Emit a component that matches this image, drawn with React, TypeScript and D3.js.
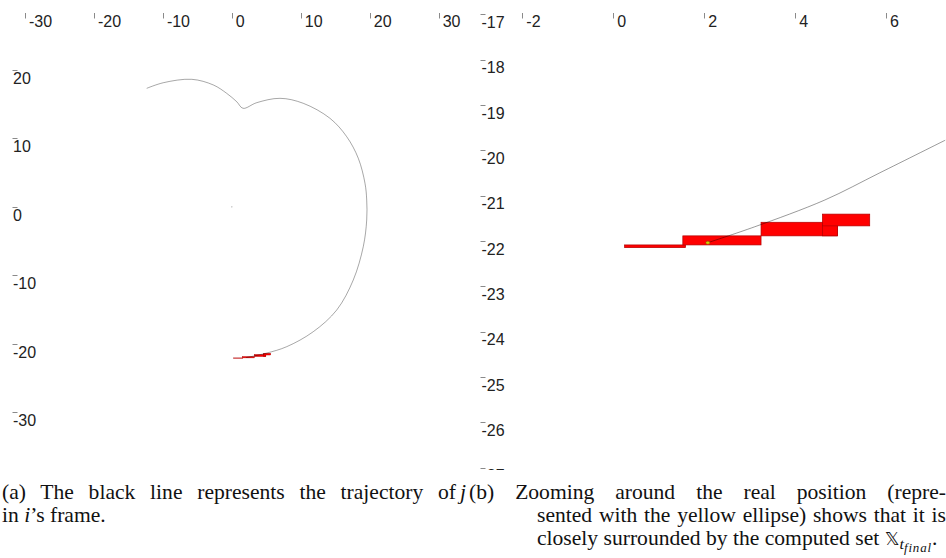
import { useLayoutEffect, useRef } from 'react'
import * as d3 from 'd3'

// tick values
const leftXTicks = [-30, -20, -10, 0, 10, 20, 30]
const leftYTicks = [20, 10, 0, -10, -20, -30]
const rightXTicks = [-2, 0, 2, 4, 6]
const rightYTicks = [-17, -18, -19, -20, -21, -22, -23, -24, -25, -26, -27]

// trajectory of j in i's frame
const trajectory: [number, number][] = [
  [-12.35, 17.32], [-9.94, 18.14], [-5.82, 18.64], [-2.68, 17.81], [-0.75, 16.59],
  [0.7, 15.37], [1.62, 14.4], [3.6, 15.22], [6.98, 15.86], [10.36, 15.13],
  [14.23, 12.94], [16.66, 10.25], [18.34, 7.09], [19.31, 3.44], [19.56, 0.99],
  [19.56, -1.93], [19.06, -5.83], [17.61, -10.7], [15.21, -15.09], [11.81, -18.26],
  [7.96, -20.45], [5.0, -21.4], [2.08, -22.04],
]

// end of the trajectory
const trajectoryZoom: [number, number][] = [
  [2.08, -22.04], [3.11, -21.69], [4.65, -21.1], [5.86, -20.5], [7.3, -19.78],
]

// computed set X_t_final (boxes)
const boxX0 = [0.25, 1.53, 3.25, 4.6, 4.6]
const boxX1 = [1.59, 3.25, 4.93, 4.93, 5.64]
const boxY0 = [-22.15, -22.09, -21.89, -21.89, -21.67]
const boxY1 = [-22.09, -21.89, -21.59, -21.59, -21.41]

// real position (yellow ellipse) and i's origin
const realPos: [number, number] = [2.08, -22.04]
const origin: [number, number] = [0, 0]

const tickFont = '"Liberation Sans", Arial, Helvetica, sans-serif'
const capFont = '"Liberation Serif", "Times New Roman", serif'
const SX = 1.08 // widen the serif a bit, closer to Computer Modern

// caption line; when width is given, spaces are stretched to fill it (justified)
function CapLine({ x, y, width, children }: { x: number; y: number; width?: number; children: any }) {
  const ref = useRef<SVGTextElement>(null)
  useLayoutEffect(() => {
    const el = ref.current
    if (!el || !width) return
    el.style.wordSpacing = '0px'
    const len = el.getComputedTextLength()
    const n = (el.textContent || '').split(' ').length - 1
    if (n > 0) el.style.wordSpacing = `${(width / SX - len) / n}px`
  }, [width])
  return (
    <text ref={ref} transform={`translate(${x},${y}) scale(${SX},1)`}>{children}</text>
  )
}

export default function App() {
  const xa = d3.scaleLinear().domain([-30, 30]).range([25, 438.7])
  const ya = d3.scaleLinear().domain([20, -30]).range([70, 412])
  const xb = d3.scaleLinear().domain([-2, 6]).range([522.3, 886.1])
  const yb = d3.scaleLinear().domain([-17, -27]).range([14.2, 467.5])

  const lineA = d3.line<[number, number]>()
    .x(d => xa(d[0]))
    .y(d => ya(d[1]))
    .curve(d3.curveCatmullRom.alpha(0.5))
  const lineB = d3.line<[number, number]>()
    .x(d => xb(d[0]))
    .y(d => yb(d[1]))
    .curve(d3.curveCatmullRom.alpha(0.5))

  const boxes = boxX0.map((x0, i) => ({ x0, x1: boxX1[i], y0: boxY0[i], y1: boxY1[i] }))

  const txt = { fontFamily: tickFont, fontSize: 16, fill: '#222' }
  const tickStroke = '#8a8a8a'

  return (
    <svg width={946} height={558} style={{ position: 'absolute', left: 0, top: 0, background: '#fff' }}>
      <defs>
        <clipPath id="clipA"><rect x={0} y={0} width={468} height={470} /></clipPath>
        <clipPath id="clipB"><rect x={470} y={0} width={476} height={470} /></clipPath>
      </defs>

      {/* panel (a) */}
      <g clipPath="url(#clipA)">
        {leftXTicks.map(t => (
          <g key={'ax' + t}>
            <line x1={Math.round(xa(t)) + 0.5} x2={Math.round(xa(t)) + 0.5} y1={13} y2={18.5} stroke={tickStroke} />
            <text x={xa(t) + 4} y={27.3} {...txt}>{t}</text>
          </g>
        ))}
        {leftYTicks.map(t => (
          <g key={'ay' + t}>
            <line x1={12.5} x2={17.5} y1={Math.round(ya(t)) + 0.5} y2={Math.round(ya(t)) + 0.5} stroke={tickStroke} />
            <text x={13} y={ya(t) + 14} {...txt}>{t}</text>
          </g>
        ))}
        {boxes.map((b, i) => (
          <rect key={'ab' + i} x={xa(b.x0)} y={ya(b.y1)} width={xa(b.x1) - xa(b.x0)} height={ya(b.y0) - ya(b.y1)}
            fill="#ff0000" stroke="#a00000" strokeWidth={0.4} />
        ))}
        <path d={lineA(trajectory) ?? ''} fill="none" stroke="#000" strokeWidth={0.35} />
        <circle cx={xa(origin[0])} cy={ya(origin[1])} r={0.6} fill="#999" />
      </g>

      {/* panel (b) */}
      <g clipPath="url(#clipB)">
        {rightXTicks.map(t => (
          <g key={'bx' + t}>
            <line x1={Math.round(xb(t)) + 0.5} x2={Math.round(xb(t)) + 0.5} y1={13} y2={18.5} stroke={tickStroke} />
            <text x={xb(t) + 4} y={27.3} {...txt}>{t}</text>
          </g>
        ))}
        {rightYTicks.map(t => (
          <g key={'by' + t}>
            <line x1={480.5} x2={485.5} y1={Math.round(yb(t)) + 0.5} y2={Math.round(yb(t)) + 0.5} stroke={tickStroke} />
            <text x={481.5} y={yb(t) + 13.8} {...txt}>{t}</text>
          </g>
        ))}
        {boxes.map((b, i) => (
          <rect key={'bb' + i} x={xb(b.x0)} y={yb(b.y1)} width={xb(b.x1) - xb(b.x0)} height={yb(b.y0) - yb(b.y1)}
            fill="#ff0000" stroke="#b00000" strokeWidth={0.7} />
        ))}
        <path d={lineB(trajectoryZoom) ?? ''} fill="none" stroke="#000" strokeWidth={0.4} />
        <ellipse cx={xb(realPos[0])} cy={yb(realPos[1])} rx={2} ry={1.5} fill="#d8d000" stroke="#6a6a00" strokeWidth={0.5} />
      </g>

      {/* captions */}
      <g fontFamily={capFont} fontSize={20} fill="#111">
        <CapLine x={2} y={499} width={454}>(a) The black line represents the trajectory of</CapLine>
        <CapLine x={460} y={499}><tspan fontStyle="italic">j</tspan></CapLine>
        <CapLine x={2} y={522}>in <tspan fontStyle="italic">i</tspan>’s frame.</CapLine>

        <CapLine x={469} y={499} width={477}>(b) Zooming around the real position (repre-</CapLine>
        <CapLine x={537} y={522} width={409}>sented with the yellow ellipse) shows that it is</CapLine>
        <CapLine x={537} y={545}>
          closely surrounded by the computed set{' '}
          <tspan fontFamily='"DejaVu Sans", sans-serif' fontSize={17}>𝕏</tspan>
          <tspan fontStyle="italic" fontSize={15} dy={4}>t</tspan>
          <tspan fontStyle="italic" fontSize={12} dy={3} letterSpacing={0.8}>final</tspan>
          <tspan dy={-7}>.</tspan>
        </CapLine>
      </g>
    </svg>
  )
}
